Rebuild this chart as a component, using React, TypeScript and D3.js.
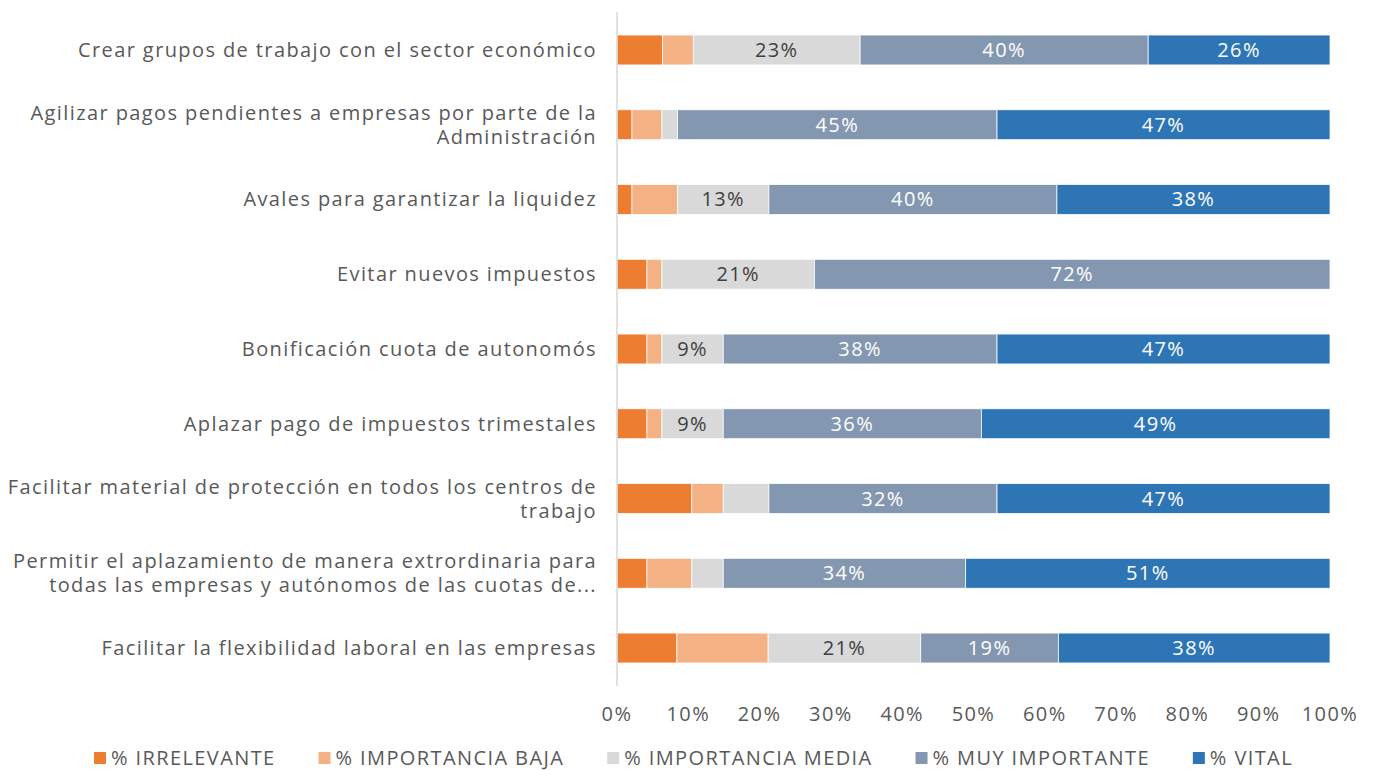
import * as d3 from 'd3'
import { useEffect, useRef } from 'react'

const categories = [
  ['Crear grupos de trabajo con el sector económico'],
  ['Agilizar pagos pendientes a empresas por parte de la', 'Administración'],
  ['Avales para garantizar la liquidez'],
  ['Evitar nuevos impuestos'],
  ['Bonificación cuota de autonomós'],
  ['Aplazar pago de impuestos trimestales'],
  ['Facilitar material de protección en todos los centros de', 'trabajo'],
  ['Permitir el aplazamiento de manera extrordinaria para', 'todas las empresas y autónomos de las cuotas de...'],
  ['Facilitar la flexibilidad laboral en las empresas'],
]

const seriesNames = ['% IRRELEVANTE', '% IMPORTANCIA BAJA', '% IMPORTANCIA MEDIA', '% MUY IMPORTANTE', '% VITAL']
const seriesColors = ['#ED7D31', '#F4B183', '#D9D9D9', '#8497B0', '#2E75B6']
const labelColors = [null, null, '#404040', '#ffffff', '#ffffff']

const irrelevante = [6.4, 2.1, 2.1, 4.2, 4.2, 4.2, 10.5, 4.2, 8.4]
const baja = [4.3, 4.2, 6.4, 2.1, 2.1, 2.1, 4.4, 6.3, 12.8]
const media = [23.4, 2.2, 12.8, 21.4, 8.6, 8.6, 6.4, 4.4, 21.4]
const muy = [40.4, 44.8, 40.4, 72.3, 38.4, 36.2, 32.0, 34.0, 19.3]
const vital = [25.5, 46.7, 38.3, 0, 46.7, 48.9, 46.7, 51.1, 38.1]

const ticks = [0, 10, 20, 30, 40, 50, 60, 70, 80, 90, 100]

const W = 1373
const H = 771
const FONT = '"Open Sans", sans-serif'
const LS = 1.4
const GREY = '#595959'

export default function App() {
  const ref = useRef<SVGSVGElement>(null)

  useEffect(() => {
    document.body.style.margin = '0'
    document.body.style.overflow = 'hidden'
    const svg = d3.select(ref.current)
    svg.selectAll('*').remove()

    const rows = categories.map((c, i) => ({
      key: String(i),
      lines: c,
      values: [irrelevante[i], baja[i], media[i], muy[i], vital[i]],
    }))

    const x = d3.scaleLinear().domain([0, 100]).range([617, 1330])
    const y = d3
      .scaleBand()
      .domain(rows.map(r => r.key))
      .range([12.6, 685.4])
      .paddingInner(0.6)
      .paddingOuter(0.3)

    const txt = (sel: any) =>
      sel.attr('font-family', FONT).attr('font-size', 20).attr('letter-spacing', LS)

    // bars
    rows.forEach(r => {
      let acc = 0
      const g = svg.append('g')
      r.values.forEach((v, s) => {
        const x0 = acc
        acc += v
        if (v <= 0) return
        g.append('rect')
          .attr('x', x(x0))
          .attr('y', y(r.key)!)
          .attr('width', x(acc) - x(x0))
          .attr('height', y.bandwidth())
          .attr('fill', seriesColors[s])
          .attr('stroke', '#ffffff')
          .attr('stroke-width', 0.75)
        if (labelColors[s] && v >= 8) {
          g.append('text')
            .attr('x', (x(x0) + x(acc)) / 2)
            .attr('y', y(r.key)! + y.bandwidth() / 2 + 7)
            .attr('text-anchor', 'middle')
            .call(txt)
            .attr('fill', labelColors[s]!)
            .text(`${Math.round(v)}%`)
        }
      })
    })

    // vertical axis line
    svg.append('line')
      .attr('x1', x(0))
      .attr('x2', x(0))
      .attr('y1', 12)
      .attr('y2', 686)
      .attr('stroke', '#D9D9D9')
      .attr('stroke-width', 1.5)

    // category labels
    rows.forEach(r => {
      const cy = y(r.key)! + y.bandwidth() / 2
      const n = r.lines.length
      r.lines.forEach((line, k) => {
        svg.append('text')
          .attr('x', 597)
          .attr('y', cy + 7 + (k - (n - 1) / 2) * 24)
          .attr('text-anchor', 'end')
          .call(txt)
          .attr('fill', GREY)
          .text(line)
      })
    })

    // x tick labels
    svg.append('g')
      .selectAll('text')
      .data(ticks)
      .join('text')
      .attr('x', d => x(d))
      .attr('y', 721)
      .attr('text-anchor', 'middle')
      .call(txt)
      .attr('fill', GREY)
      .text(d => `${d}%`)

    // legend: spread items across the same span as the reference
    const legend = svg.append('g').attr('transform', 'translate(94,758)')
    const items = seriesNames.map((name, s) => {
      const item = legend.append('g')
      item.append('rect')
        .attr('x', 0)
        .attr('y', -6)
        .attr('width', 12)
        .attr('height', 12)
        .attr('fill', seriesColors[s])
      const t = item.append('text')
        .attr('x', 17)
        .attr('y', 7)
        .call(txt)
        .attr('fill', GREY)
        .text(name)
      return { item, w: 17 + (t.node() as SVGTextElement).getComputedTextLength() }
    })
    const span = 1199
    const gap = (span - d3.sum(items, d => d.w)) / (items.length - 1)
    let lx = 0
    items.forEach(d => {
      d.item.attr('transform', `translate(${lx},0)`)
      lx += d.w + gap
    })
  }, [])

  return <svg ref={ref} width={W} height={H} style={{ display: 'block' }} />
}
